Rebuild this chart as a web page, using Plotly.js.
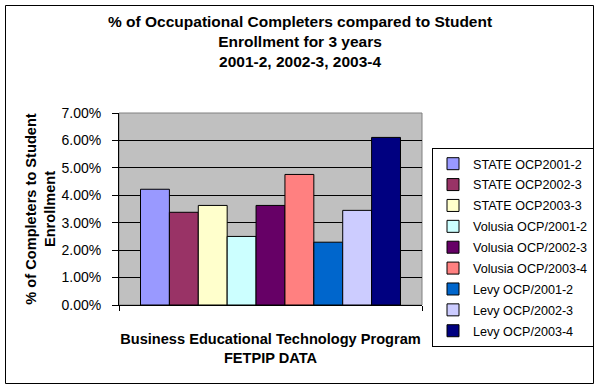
<!DOCTYPE html>
<html>
<head>
<meta charset="utf-8">
<script src="https://cdn.plot.ly/plotly-3.0.1.min.js"></script>
<style>
html,body{margin:0;padding:0;background:#fff;}
#chart{width:600px;height:387px;}
</style>
</head>
<body>
<div id="chart"></div>
<script>
var seriesNames = [
  "STATE OCP2001-2",
  "STATE OCP2002-3",
  "STATE OCP2003-3",
  "Volusia OCP/2001-2",
  "Volusia OCP/2002-3",
  "Volusia OCP/2003-4",
  "Levy OCP/2001-2",
  "Levy OCP/2002-3",
  "Levy OCP/2003-4"
];
var seriesValues = [0.0422, 0.0338, 0.0363, 0.0250, 0.0363, 0.0476, 0.0229, 0.0345, 0.0611];
var seriesColors = ["#9999FF", "#993366", "#FFFFCC", "#CCFFFF", "#660066", "#FF8080", "#0066CC", "#CCCCFF", "#000080"];
var category = [0];
var chartTitle = "<b>% of Occupational Completers compared to Student<br>Enrollment for 3 years<br>2001-2, 2002-3, 2003-4</b>";
var xTitle = "<b>Business Educational Technology Program<br>FETPIP DATA</b>";
var yTitle = "<b>% of Completers to Student<br>Enrollment</b>";

var font = "Liberation Sans, Arial, sans-serif";

var traces = seriesNames.map(function (name, i) {
  return {
    type: "bar",
    name: name,
    legendgroup: "g" + i,
    x: category,
    y: [seriesValues[i]],
    marker: { color: seriesColors[i], line: { color: "#000000", width: 1 } },
    hoverinfo: "name+y"
  };
});

var L = 119, R = 422, T = 113, B = 305, W = 600, H = 387;
function px(x) { return (x - L) / (R - L); }
function py(y) { return (B - y) / (B - T); }

var layout = {
  width: W,
  height: H,
  margin: { l: L, r: W - R, t: T, b: H - B, pad: 0, autoexpand: false },
  paper_bgcolor: "#ffffff",
  plot_bgcolor: "#C0C0C0",
  font: { family: font, size: 14, color: "#000000" },
  barmode: "group",
  bargap: 0.142,
  bargroupgap: 0,
  xaxis: {
    type: "linear",
    range: [-0.5, 0.5],
    tickvals: [-0.5, 0.5],
    ticktext: ["", ""],
    ticks: "outside",
    ticklen: 5,
    tickcolor: "#000000",
    showgrid: false,
    zeroline: false,
    showline: true,
    linecolor: "#000000",
    linewidth: 1,
    fixedrange: true,
    automargin: false,
    title: {
      text: xTitle,
      font: { family: font, size: 14.6, color: "#000000" },
      standoff: 20
    }
  },
  yaxis: {
    range: [0, 0.07],
    dtick: 0.01,
    tick0: 0,
    tickformat: ".2%",
    ticks: "outside",
    ticklen: 6,
    tickcolor: "#000000",
    ticklabelstandoff: 8,
    showgrid: true,
    gridcolor: "#000000",
    gridwidth: 1,
    zeroline: false,
    showline: true,
    linecolor: "#000000",
    linewidth: 1,
    fixedrange: true,
    automargin: false,
    tickfont: { family: font, size: 14, color: "#000000" },
    title: {
      text: yTitle,
      font: { family: font, size: 14.6, color: "#000000" },
      standoff: 2
    }
  },
  showlegend: true,
  legend: {
    x: px(432), xanchor: "left",
    y: py(148), yanchor: "top",
    bgcolor: "#ffffff",
    bordercolor: "#000000",
    borderwidth: 1,
    font: { family: font, size: 12.6, color: "#000000" },
    traceorder: "grouped",
    tracegroupgap: 1.5,
    itemwidth: 30,
    maxheight: 387
  },
  annotations: [
    {
      text: chartTitle,
      xref: "paper", yref: "paper",
      x: px(300), y: py(11),
      xanchor: "center", yanchor: "top",
      showarrow: false,
      align: "center",
      font: { family: font, size: 15.5, color: "#000000" }
    }
  ],
  shapes: [
    {
      type: "rect", xref: "paper", yref: "paper",
      x0: 0, x1: 1, y0: 0, y1: 1,
      line: { color: "#808080", width: 1 },
      fillcolor: "rgba(0,0,0,0)",
      layer: "below"
    },
    {
      type: "rect", xref: "paper", yref: "paper",
      x0: px(5.5), x1: px(593.5), y0: py(383.5), y1: py(5.5),
      line: { color: "#000000", width: 1 },
      fillcolor: "rgba(0,0,0,0)",
      layer: "above"
    }
  ]
};

Plotly.newPlot("chart", traces, layout, { displayModeBar: false, staticPlot: true });
</script>
</body>
</html>
